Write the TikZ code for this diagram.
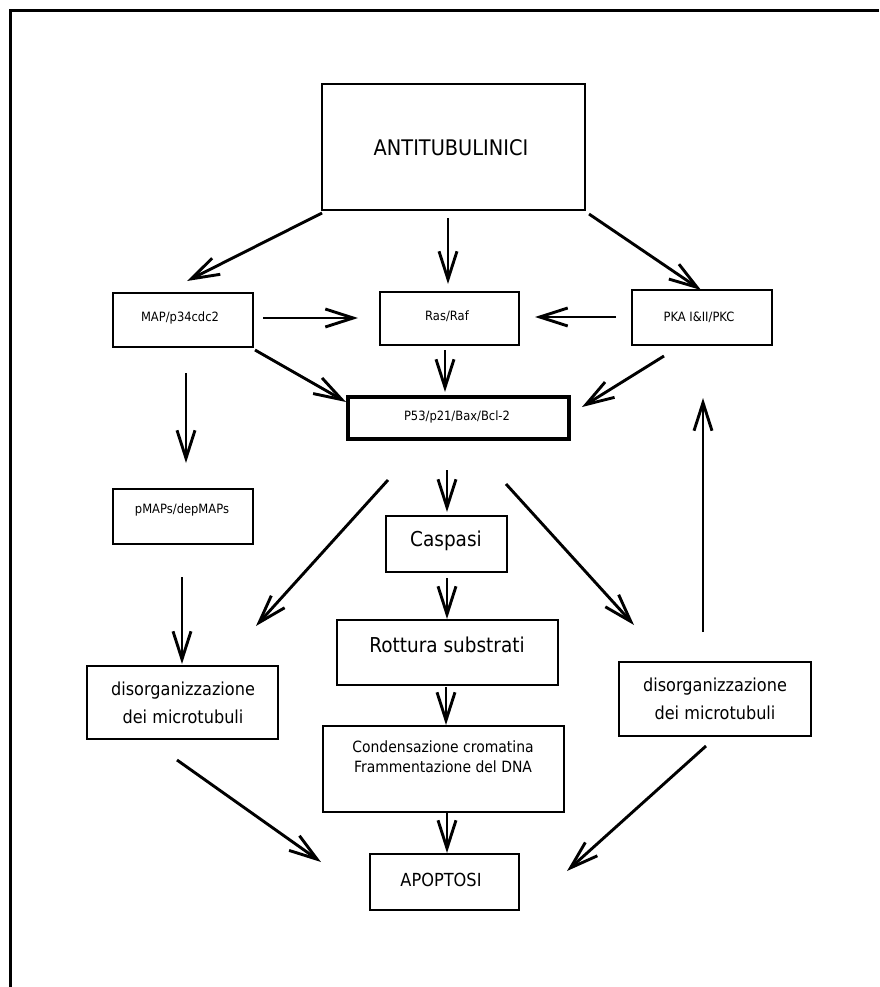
\documentclass[tikz,border=0pt]{standalone}
\usepackage{fontspec}
\setmainfont{DejaVu Sans}[FakeStretch=0.9]
\usetikzlibrary{arrows.meta}
\begin{document}
\begin{tikzpicture}[x=1pt,y=-1pt]
\tikzset{
  box/.style={draw, line width=2.1pt, inner sep=0pt},
  txt/.style={inner sep=0pt, align=center},
  small/.style={font=\fontsize{12.8}{15}\selectfont},
  mid/.style={font=\fontsize{17.9}{28}\selectfont},
  big/.style={font=\fontsize{20.5}{24}\selectfont},
  cond/.style={font=\fontsize{15.5}{20}\selectfont},
  arr/.style={line width=2.9pt, -{Straight Barb[length=28pt,width=18pt]}}
}
\useasboundingbox (0,0) rectangle (879,987);
% frame
\draw[line width=3pt] (10,987) -- (10,11) -- (879,11);

% boxes
\node[box, minimum width=263pt, minimum height=126pt] (anti) at (453.5,147) {};
\node[txt, font=\fontsize{21.5}{24}\selectfont] (antit) at (451,148) {ANTITUBULINICI};

\node[box, minimum width=140pt, minimum height=54pt] (map) at (183,320) {};
\node[txt, small] (mapt) at (180,318) {MAP/p34cdc2};

\node[box, minimum width=139pt, minimum height=53pt] (ras) at (449.5,318.5) {};
\node[txt, small] (rast) at (447,316) {Ras/Raf};

\node[box, minimum width=140pt, minimum height=55pt] (pka) at (702,317.5) {};
\node[txt, small] (pkat) at (699,317) {PKA I\&II/PKC};

\node[box, line width=3.2pt, minimum width=221pt, minimum height=42pt] (p53) at (458.5,418) {};
\node[txt, small] (p53t) at (457,417) {P53/p21/Bax/Bcl-2};

\node[box, minimum width=140pt, minimum height=55pt] (pmaps) at (183,516.5) {};
\node[txt, small] (pmapst) at (182,510) {pMAPs/depMAPs};

\node[box, line width=2.5pt, minimum width=121pt, minimum height=56pt] (casp) at (446.5,544) {};
\node[txt, big] (caspt) at (446,541) {Caspasi};

\node[box, minimum width=221pt, minimum height=65pt] (rot) at (447.5,652.5) {};
\node[txt, big] (rott) at (447,645) {Rottura substrati};

\node[box, minimum width=241pt, minimum height=86pt] (cond) at (443.5,769) {};
\node[txt, cond] (condt) at (443,757) {Condensazione cromatina\\Frammentazione del DNA};

\node[box, line width=2.5pt, minimum width=149pt, minimum height=56pt] (apop) at (444.5,882) {};
\node[txt, font=\fontsize{18}{22}\selectfont] (apopt) at (441,880) {APOPTOSI};

\node[box, minimum width=191pt, minimum height=73pt] (disL) at (182.5,702.5) {};
\node[txt, mid] (disLt) at (183,703) {disorganizzazione\\dei microtubuli};

\node[box, minimum width=192pt, minimum height=74pt] (disR) at (715,699) {};
\node[txt, mid] (disRt) at (715,698.5) {disorganizzazione\\dei microtubuli};

% arrow end points
\coordinate (a1s) at (322,213);  \coordinate (a1e) at (187,281);
\coordinate (a2s) at (448,218);  \coordinate (a2e) at (448,284);
\coordinate (a3s) at (589,214);  \coordinate (a3e) at (701,290);
\coordinate (a4s) at (263,318);  \coordinate (a4e) at (358,318);
\coordinate (a5s) at (616,317);  \coordinate (a5e) at (535,317);
\coordinate (a6s) at (445,350);  \coordinate (a6e) at (445,392);
\coordinate (a7s) at (255,350);  \coordinate (a7e) at (346,402);
\coordinate (a8s) at (664,356);  \coordinate (a8e) at (582,407);
\coordinate (a9s) at (186,373);  \coordinate (a9e) at (186,463);
\coordinate (a10s) at (447,470); \coordinate (a10e) at (447,512);
\coordinate (a11s) at (388,480); \coordinate (a11e) at (256,626);
\coordinate (a12s) at (506,484); \coordinate (a12e) at (634,625);
\coordinate (a13s) at (447,578); \coordinate (a13e) at (447,619);
\coordinate (a14s) at (182,577); \coordinate (a14e) at (182,664);
\coordinate (a15s) at (703,632); \coordinate (a15e) at (703,398);
\coordinate (a16s) at (446,687); \coordinate (a16e) at (446,725);
\coordinate (a17s) at (447,812); \coordinate (a17e) at (447,853);
\coordinate (a18s) at (177,760); \coordinate (a18e) at (321,862);
\coordinate (a19s) at (706,746); \coordinate (a19e) at (567,871);

\foreach \i in {1,...,19} {
  \draw[arr] (a\i s) -- (a\i e);
}
\end{tikzpicture}
\end{document}
